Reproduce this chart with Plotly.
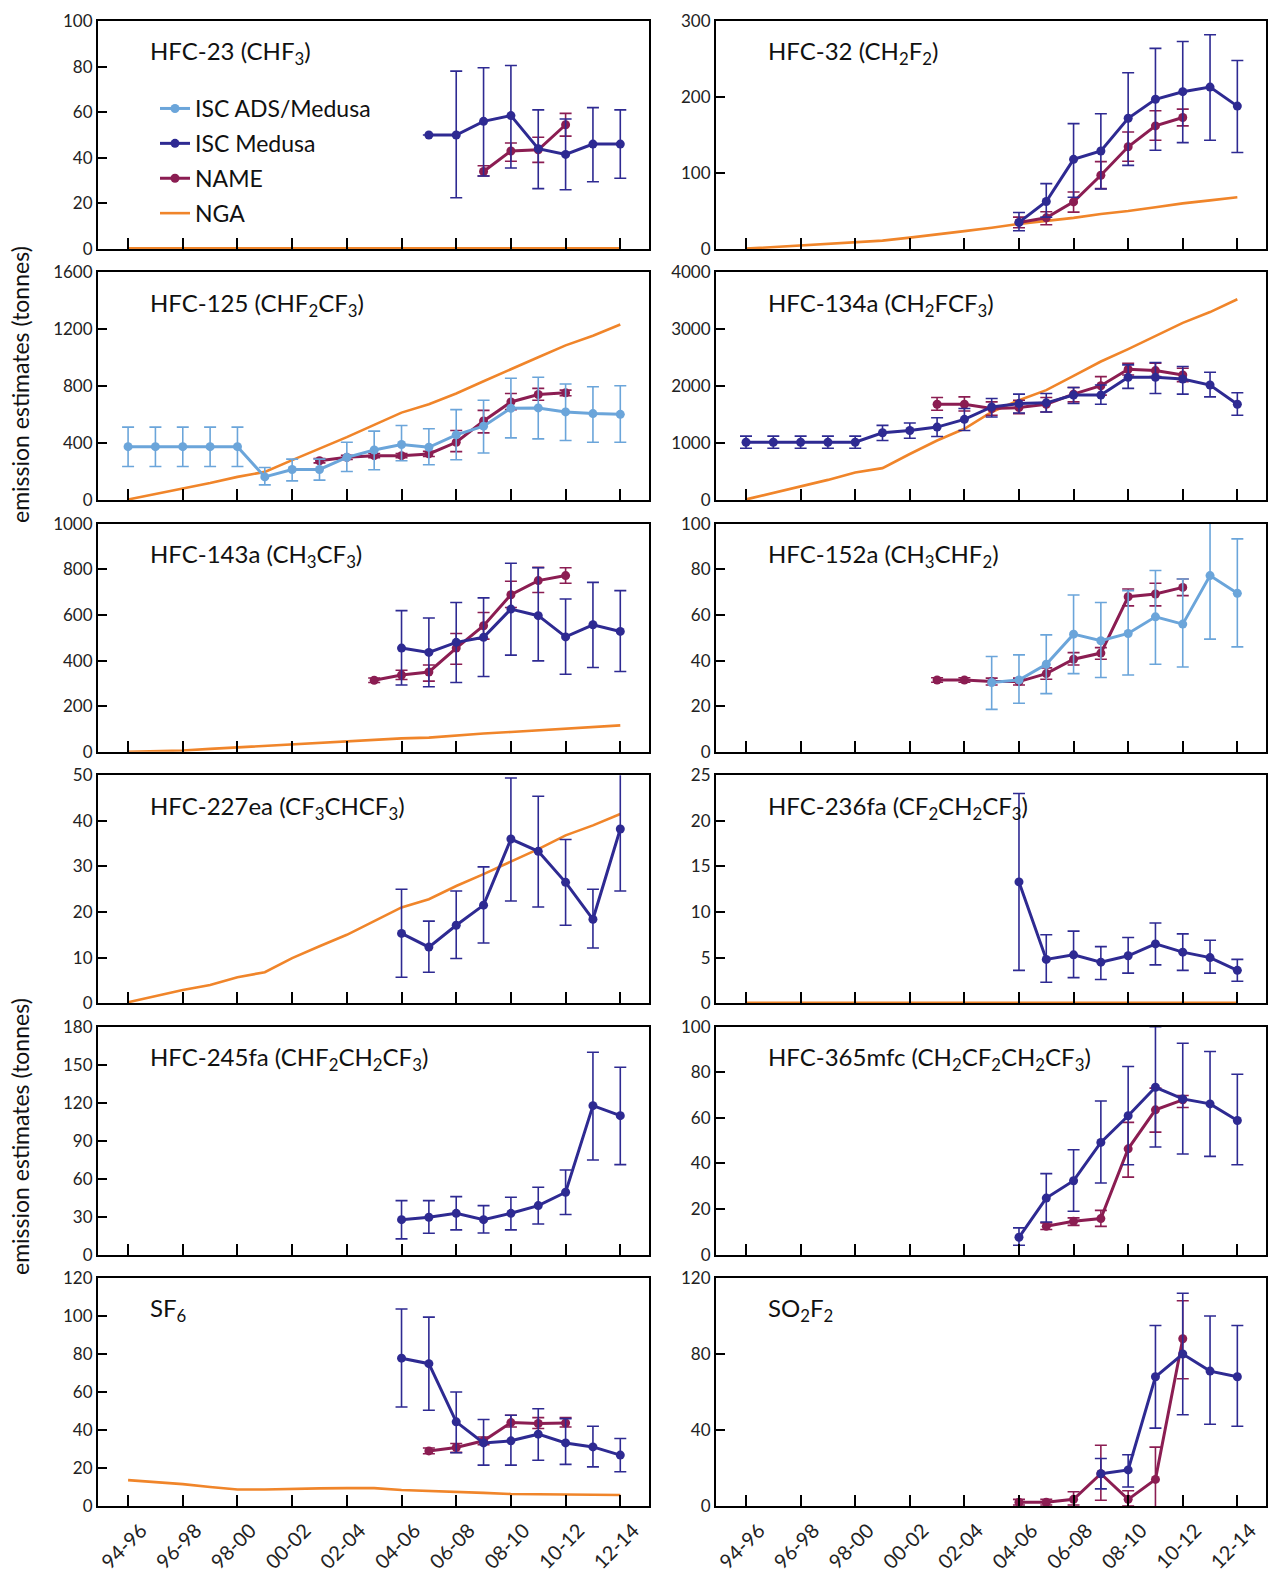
import plotly.graph_objects as go
from plotly.subplots import make_subplots

N = None
periods = ["94-96", "95-97", "96-98", "97-99", "98-00", "99-01", "00-02", "01-03", "02-04", "03-05",
           "04-06", "05-07", "06-08", "07-09", "08-10", "09-11", "10-12", "11-13", "12-14"]
tick_labels = periods[::2]

def pad(start, vals):
    out = [N] * 19
    for k, v in enumerate(vals):
        out[start + k] = v
    return out

# ---------------- HFC-23 ----------------
hfc23_med = pad(11, [50, 50, 56, 58.5, 44, 41.5, 46, 46])
hfc23_med_lo = pad(11, [N, 22.5, 32, 35.5, 26.5, 26, 29.5, 31])
hfc23_med_hi = pad(11, [N, 78, 79.5, 80.5, 61, 57, 62, 61])
hfc23_name = pad(13, [34, 43, 43.5, 54.5])
hfc23_name_lo = pad(13, [32, 38.5, 38, 49.5])
hfc23_name_hi = pad(13, [36.5, 46.5, 49, 59.5])
hfc23_nga = [0.3] * 19

# ---------------- HFC-32 ----------------
hfc32_med = pad(10, [35, 62.5, 118, 129, 172, 197, 207, 213, 188])
hfc32_med_lo = pad(10, [24, 42, 68, 79, 110, 130, 140, 143, 127])
hfc32_med_hi = pad(10, [48, 86, 165, 178, 232, 264, 273, 282, 248])
hfc32_name = pad(10, [35, 41, 62, 97, 134.5, 162, 173])
hfc32_name_lo = pad(10, [28, 32, 48.5, 79.5, 115.5, 143, 162])
hfc32_name_hi = pad(10, [42, 49, 75, 115, 154, 182, 184])
hfc32_nga = [0.5, 2.5, 4.5, 6.5, 8.5, 11, 15, 19, 23.5, 28, 33, 37, 41, 46, 50, 55, 60, 64, 68]

# ---------------- HFC-125 ----------------
hfc125_ads = [377, 377, 377, 377, 377, 165, 217, 217, 302, 354, 392, 373, 460, 521, 647, 649, 621, 609, 604]
hfc125_ads_lo = [238, 238, 238, 238, 238, 109, 137, 142, 203, 215, 278, 250, 285, 333, 439, 432, 420, 408, 408]
hfc125_ads_hi = [514, 514, 514, 514, 514, 231, 290, 290, 408, 486, 526, 503, 637, 703, 857, 864, 817, 798, 805]
hfc125_name = pad(7, [278, 302, 314, 314, 326, 408, 557, 691, 743, 755])
hfc125_name_lo = pad(7, [263, 287, 299, 299, 308, 342, 474, 637, 703, 734])
hfc125_name_hi = pad(7, [293, 317, 329, 329, 344, 491, 632, 750, 786, 774])
hfc125_nga = [7, 45, 83, 122, 165, 200, 283, 363, 444, 530, 616, 675, 750, 836, 923, 1005, 1088, 1156, 1234]

# ---------------- HFC-134a ----------------
hfc134a_med = [1020, 1020, 1020, 1020, 1020, 1186, 1227, 1286, 1422, 1640, 1699, 1711, 1847, 1847, 2159, 2159, 2130, 2024, 1687]
hfc134a_med_lo = [914, 914, 914, 914, 914, 1050, 1091, 1121, 1227, 1463, 1534, 1552, 1699, 1687, 1965, 1876, 1864, 1817, 1493]
hfc134a_med_hi = [1127, 1127, 1127, 1127, 1127, 1316, 1357, 1451, 1611, 1788, 1864, 1876, 1982, 2024, 2378, 2419, 2348, 2248, 1888]
hfc134a_name = pad(7, [1687, 1687, 1611, 1628, 1687, 1864, 2012, 2301, 2277, 2201])
hfc134a_name_lo = pad(7, [1581, 1569, 1493, 1522, 1552, 1728, 1847, 2201, 2171, 2083])
hfc134a_name_hi = pad(7, [1805, 1817, 1729, 1758, 1805, 1982, 2171, 2407, 2407, 2319])
hfc134a_nga = [18, 130, 242, 360, 490, 566, 814, 1050, 1257, 1552, 1758, 1935, 2183, 2437, 2655, 2891, 3115, 3304, 3528]

# ---------------- HFC-143a ----------------
hfc143a_med = pad(10, [455, 436, 480, 502, 626, 597, 504, 557, 528])
hfc143a_med_lo = pad(10, [293, 285, 304, 330, 424, 399, 340, 370, 352])
hfc143a_med_hi = pad(10, [619, 587, 655, 675, 827, 807, 670, 743, 707])
hfc143a_name = pad(9, [314, 337, 350, 455, 553, 689, 751, 773])
hfc143a_name_lo = pad(9, [304, 317, 310, 384, 494, 633, 699, 739])
hfc143a_name_hi = pad(9, [324, 358, 381, 519, 611, 748, 809, 807])
hfc143a_nga = [0, 3, 6, 13, 20, 26, 32, 40, 47, 53, 59, 62, 72, 80, 87, 95, 103, 109, 116]

# ---------------- HFC-152a ----------------
hfc152a_ads = pad(9, [30.4, 31.5, 38.4, 51.6, 48.7, 51.9, 59.2, 56, 77.3, 69.5])
hfc152a_ads_lo = pad(9, [18.6, 21.3, 25.5, 34.3, 32.6, 33.7, 38.4, 37.2, 49.4, 46])
hfc152a_ads_hi = pad(9, [41.8, 42.5, 51.3, 68.8, 65.5, 70.7, 79.5, 75.8, 104.7, 93.4])
hfc152a_name = pad(7, [31.5, 31.5, 30.8, 30.8, 34.3, 40.6, 43.3, 68, 69.2, 72.1])
hfc152a_name_lo = pad(7, [30.5, 30.5, 29.3, 29.3, 31.8, 38.1, 40.6, 64, 64, 68.5])
hfc152a_name_hi = pad(7, [32.5, 32.5, 32.3, 32.3, 36.8, 43.5, 45.7, 71.4, 73.9, 75.8])

# ---------------- HFC-227ea ----------------
hfc227ea_med = pad(10, [15.3, 12.3, 17.1, 21.5, 36, 33.3, 26.5, 18.4, 38.2])
hfc227ea_med_lo = pad(10, [5.7, 6.8, 9.8, 13.2, 22.4, 21.1, 17.1, 12.1, 24.6])
hfc227ea_med_hi = pad(10, [25, 18, 24.6, 29.9, 49.4, 45.4, 35.9, 25, 52])
hfc227ea_nga = [0.2, 1.6, 2.9, 4, 5.7, 6.8, 9.9, 12.5, 15, 18, 21, 22.8, 25.7, 28.3, 31.1, 33.8, 36.8, 39, 41.5]

# ---------------- HFC-236fa ----------------
hfc236fa_med = pad(10, [13.3, 4.8, 5.3, 4.5, 5.2, 6.5, 5.6, 5.0, 3.6])
hfc236fa_med_lo = pad(10, [3.6, 2.3, 2.8, 2.6, 3.3, 4.2, 3.6, 3.3, 2.4])
hfc236fa_med_hi = pad(10, [23, 7.5, 7.9, 6.2, 7.2, 8.8, 7.6, 6.9, 4.8])
hfc236fa_nga = [0.05] * 19

# ---------------- HFC-245fa ----------------
hfc245fa_med = pad(10, [27.6, 29.5, 32.6, 27.6, 32.6, 38.7, 49.2, 117.6, 109.7])
hfc245fa_med_lo = pad(10, [12.4, 16.8, 19.5, 17.1, 19.5, 24.2, 31.6, 74.7, 71])
hfc245fa_med_hi = pad(10, [42.6, 42.6, 45.8, 38.7, 45.3, 53.2, 66.8, 159.7, 147.9])

# ---------------- HFC-365mfc ----------------
hfc365mfc_med = pad(10, [7.6, 24.8, 32.4, 49.2, 60.9, 73.4, 68.3, 66.1, 58.8])
hfc365mfc_med_lo = pad(10, [4.1, 14.3, 19, 31.4, 39.4, 47.2, 44.1, 43.1, 39.4])
hfc365mfc_med_hi = pad(10, [11.7, 35.5, 46, 67.4, 82.5, 100, 92.7, 89.1, 79.1])
hfc365mfc_name = pad(11, [12.4, 14.6, 15.8, 46.4, 63.5, 67.9])
hfc365mfc_name_lo = pad(11, [11, 12.8, 12.4, 34, 53.7, 64.5])
hfc365mfc_name_hi = pad(11, [13.9, 16.1, 19.4, 58, 73, 69.8])

# ---------------- SF6 ----------------
sf6_med = pad(10, [77.8, 74.9, 44.3, 33.2, 34.3, 37.8, 33.2, 31.1, 26.8])
sf6_med_lo = pad(10, [52.1, 50.4, 28, 21.5, 21.5, 24.1, 21.9, 20.6, 18])
sf6_med_hi = pad(10, [103.7, 99.4, 60, 45.5, 47.8, 51.2, 46, 42, 35.5])
sf6_name = pad(11, [29, 30.8, 34.3, 43.9, 43.4, 43.7])
sf6_name_lo = pad(11, [27.5, 28.2, 32.3, 41.6, 40.8, 41.6])
sf6_name_hi = pad(11, [30.5, 32.9, 36.3, 47.8, 46.5, 46.5])
sf6_nga = [13.6, 12.5, 11.5, 10, 8.7, 8.7, 9.1, 9.3, 9.4, 9.4, 8.4, 8, 7.5, 6.9, 6.3, 6.1, 5.9, 5.8, 5.8]

# ---------------- SO2F2 ----------------
so2f2_med = pad(13, [17, 19, 68, 80, 71, 68])
so2f2_med_lo = pad(13, [9, 10, 41, 48, 43, 42])
so2f2_med_hi = pad(13, [25, 27, 95, 112, 100, 95])
so2f2_name = pad(10, [2, 2, 3.5, 17, 3.5, 14, 88])
so2f2_name_lo = pad(10, [0.5, 0.5, 0.5, 3, 0, -4, 67])
so2f2_name_hi = pad(10, [3.5, 3.5, 7.5, 32, 8, 31, 108])

# ---------------- panel definitions ----------------
panel_titles = ["HFC-23 (CHF<sub>3</sub>)", "HFC-32 (CH<sub>2</sub>F<sub>2</sub>)",
                "HFC-125 (CHF<sub>2</sub>CF<sub>3</sub>)", "HFC-134a (CH<sub>2</sub>FCF<sub>3</sub>)",
                "HFC-143a (CH<sub>3</sub>CF<sub>3</sub>)", "HFC-152a (CH<sub>3</sub>CHF<sub>2</sub>)",
                "HFC-227ea (CF<sub>3</sub>CHCF<sub>3</sub>)", "HFC-236fa (CF<sub>2</sub>CH<sub>2</sub>CF<sub>3</sub>)",
                "HFC-245fa (CHF<sub>2</sub>CH<sub>2</sub>CF<sub>3</sub>)", "HFC-365mfc (CH<sub>2</sub>CF<sub>2</sub>CH<sub>2</sub>CF<sub>3</sub>)",
                "SF<sub>6</sub>", "SO<sub>2</sub>F<sub>2</sub>"]
panel_ymax = [100, 300, 1600, 4000, 1000, 100, 50, 25, 180, 100, 120, 120]
panel_dtick = [20, 100, 400, 1000, 200, 20, 10, 5, 30, 20, 20, 40]

ADS_C = "#6BA5DA"
MED_C = "#2E2A92"
NAME_C = "#8B1D52"
NGA_C = "#F0852A"

# (kind, values, lo, hi) for each panel, drawing order: NGA, NAME, ADS, Medusa
panel_series = [
    [("NGA", hfc23_nga, N, N), ("NAME", hfc23_name, hfc23_name_lo, hfc23_name_hi), ("MED", hfc23_med, hfc23_med_lo, hfc23_med_hi)],
    [("NGA", hfc32_nga, N, N), ("NAME", hfc32_name, hfc32_name_lo, hfc32_name_hi), ("MED", hfc32_med, hfc32_med_lo, hfc32_med_hi)],
    [("NGA", hfc125_nga, N, N), ("NAME", hfc125_name, hfc125_name_lo, hfc125_name_hi), ("ADS", hfc125_ads, hfc125_ads_lo, hfc125_ads_hi)],
    [("NGA", hfc134a_nga, N, N), ("NAME", hfc134a_name, hfc134a_name_lo, hfc134a_name_hi), ("MED", hfc134a_med, hfc134a_med_lo, hfc134a_med_hi)],
    [("NGA", hfc143a_nga, N, N), ("NAME", hfc143a_name, hfc143a_name_lo, hfc143a_name_hi), ("MED", hfc143a_med, hfc143a_med_lo, hfc143a_med_hi)],
    [("NAME", hfc152a_name, hfc152a_name_lo, hfc152a_name_hi), ("ADS", hfc152a_ads, hfc152a_ads_lo, hfc152a_ads_hi)],
    [("NGA", hfc227ea_nga, N, N), ("MED", hfc227ea_med, hfc227ea_med_lo, hfc227ea_med_hi)],
    [("NGA", hfc236fa_nga, N, N), ("MED", hfc236fa_med, hfc236fa_med_lo, hfc236fa_med_hi)],
    [("MED", hfc245fa_med, hfc245fa_med_lo, hfc245fa_med_hi)],
    [("NAME", hfc365mfc_name, hfc365mfc_name_lo, hfc365mfc_name_hi), ("MED", hfc365mfc_med, hfc365mfc_med_lo, hfc365mfc_med_hi)],
    [("NGA", sf6_nga, N, N), ("NAME", sf6_name, sf6_name_lo, sf6_name_hi), ("MED", sf6_med, sf6_med_lo, sf6_med_hi)],
    [("NAME", so2f2_name, so2f2_name_lo, so2f2_name_hi), ("MED", so2f2_med, so2f2_med_lo, so2f2_med_hi)],
]

legend_names = {"ADS": "ISC ADS/Medusa", "MED": "ISC Medusa", "NAME": "NAME", "NGA": "NGA"}
legend_rank = {"ADS": 1, "MED": 2, "NAME": 3, "NGA": 4}
colors = {"ADS": ADS_C, "MED": MED_C, "NAME": NAME_C, "NGA": NGA_C}

FONT = "Lato"
W, H = 1271, 1573

fig = make_subplots(rows=6, cols=2)

col_px = [(98, 649), (716, 1266)]
row_top0, row_pitch, row_h = 21, 251.4, 228

shown = set()
for p in range(12):
    r, c = p // 2 + 1, p % 2 + 1
    for kind, vals, lo, hi in panel_series[p]:
        if p == 0 or kind == "ADS":
            showleg = kind not in shown
        else:
            showleg = False
        if showleg:
            shown.add(kind)
        col = colors[kind]
        kw = {}
        if lo is not None:
            up = [None if (v is None or h is None) else h - v for v, h in zip(vals, hi)]
            dn = [None if (v is None or l is None) else v - l for v, l in zip(vals, lo)]
            kw["error_y"] = dict(type="data", symmetric=False, array=up, arrayminus=dn,
                                 color=col, thickness=1.6, width=6)
        if kind == "NGA":
            tr = go.Scatter(x=periods, y=vals, mode="lines", line=dict(color=col, width=2.6),
                            name=legend_names[kind], legendgroup=kind, legendrank=legend_rank[kind],
                            showlegend=showleg, cliponaxis=False)
        else:
            tr = go.Scatter(x=periods, y=vals, mode="lines+markers",
                            line=dict(color=col, width=3), marker=dict(color=col, size=9),
                            name=legend_names[kind], legendgroup=kind, legendrank=legend_rank[kind],
                            showlegend=showleg, cliponaxis=False, **kw)
        fig.add_trace(tr, row=r, col=c)

    top = row_top0 + (r - 1) * row_pitch
    bot = top + row_h
    x0, x1 = col_px[c - 1]
    xdom = [x0 / W, x1 / W]
    ydom = [1 - bot / H, 1 - top / H]
    fig.update_xaxes(row=r, col=c, domain=xdom, type="category", categoryorder="array",
                     categoryarray=periods, range=[-1.1, 19.05], automargin=False,
                     tickmode="array", tickvals=tick_labels, ticktext=tick_labels,
                     ticks="inside", ticklen=11, tickwidth=2, tickcolor="black",
                     showline=True, linewidth=2, linecolor="black", mirror=True,
                     showgrid=False, zeroline=False,
                     showticklabels=(r == 6), tickangle=-45,
                     ticklabelshift=13, ticklabelstandoff=3,
                     tickfont=dict(family=FONT, size=20, color="#222"))
    fig.update_yaxes(row=r, col=c, domain=ydom, range=[0, panel_ymax[p]], automargin=False,
                     tickmode="linear", tick0=0, dtick=panel_dtick[p],
                     ticks="inside", ticklen=9, tickwidth=2, tickcolor="black",
                     showline=True, linewidth=2, linecolor="black", mirror=True,
                     showgrid=False, zeroline=False,
                     tickfont=dict(family=FONT, size=17, color="#222"))
    xname = "x" if p == 0 else f"x{p + 1}"
    yname = "y" if p == 0 else f"y{p + 1}"
    fig.add_annotation(text=panel_titles[p], xref=f"{xname} domain", yref=f"{yname} domain",
                       x=0.09, y=0.86, xanchor="left", yanchor="middle", showarrow=False,
                       font=dict(family=FONT, size=24, color="#111"))

for yc in [385, 1137]:
    fig.add_annotation(text="emission estimates (tonnes)", xref="paper", yref="paper",
                       x=20 / W, y=1 - yc / H, textangle=-90, showarrow=False,
                       xanchor="center", yanchor="middle",
                       font=dict(family=FONT, size=23, color="#111"))

fig.update_layout(
    width=W, height=H,
    margin=dict(l=0, r=0, t=0, b=0),
    paper_bgcolor="white", plot_bgcolor="white",
    font=dict(family=FONT, color="#111"),
    legend=dict(x=155 / W, y=1 - 87 / H, xanchor="left", yanchor="top",
                font=dict(family=FONT, size=23, color="#111"),
                bgcolor="rgba(0,0,0,0)", tracegroupgap=2, itemwidth=30),
)

fig.write_html("out.html")
